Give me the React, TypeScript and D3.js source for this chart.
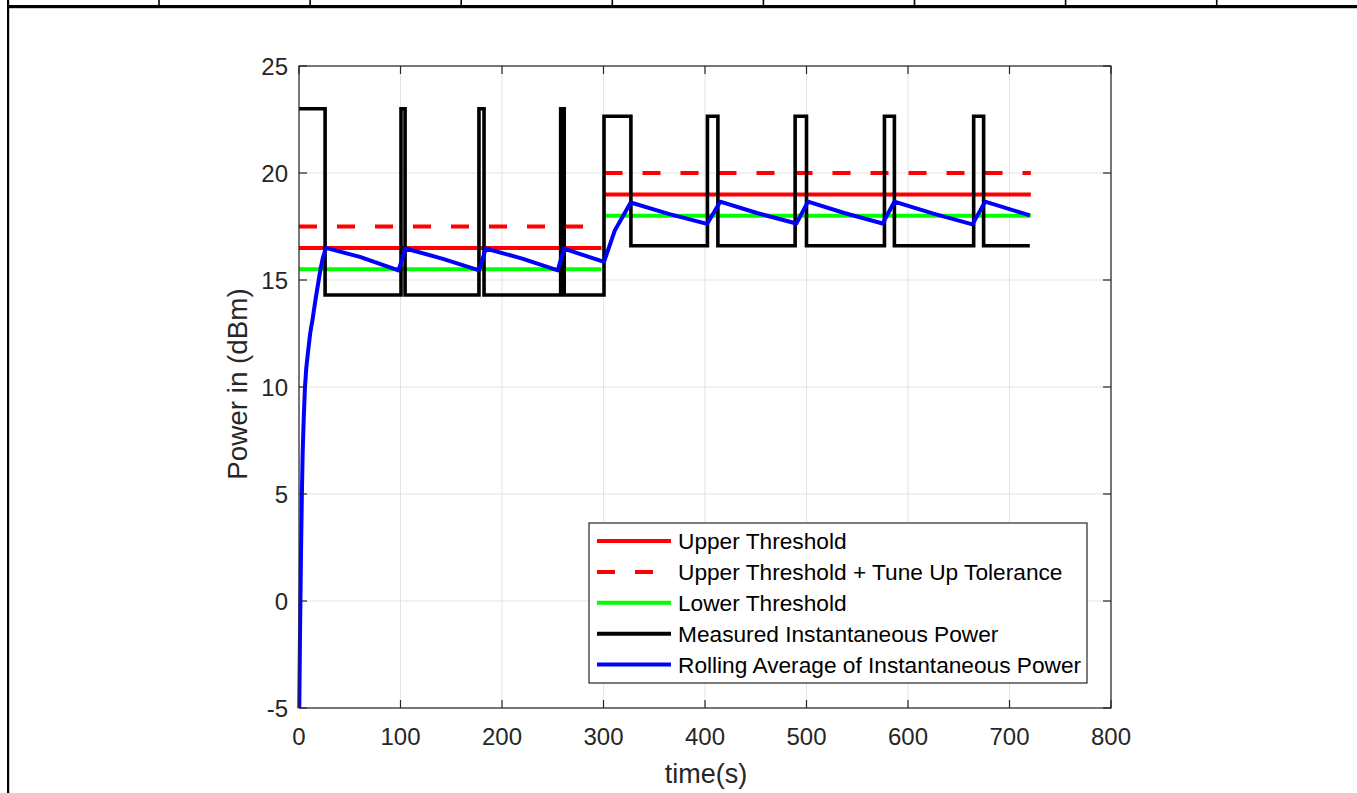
import React from "react";
import * as d3 from "d3";

// ---- data ----
const xTicks = [0, 100, 200, 300, 400, 500, 600, 700, 800];
const yTicks = [-5, 0, 5, 10, 15, 20, 25];

// thresholds per phase: [tStart, tEnd, value]
const upperThreshold = [
  [0, 298, 16.5],
  [301, 721, 19],
];
const upperTolerance = [
  [0, 298, 17.5],
  [301, 721, 20],
];
const lowerThreshold = [
  [0, 298, 15.5],
  [301, 721, 18],
];

// measured instantaneous power: change times and levels (step after)
const measuredT = [
  0, 25.7, 100.5, 104.5, 177.3, 182.3, 257.8, 261.3, 300.5, 327, 402.4, 412.7,
  488.8, 500, 576.8, 586.6, 664.7, 674.5, 720,
];
const measuredV = [
  23, 14.3, 23, 14.3, 23, 14.3, 23, 14.3, 22.65, 16.6, 22.65, 16.6, 22.65, 16.6,
  22.65, 16.6, 22.65, 16.6, 16.6,
];

// rolling average
const rollT = [
  0.3, 1, 2, 2.8, 3.6, 4.7, 5.9, 7.2, 8.8, 11, 13.5, 16, 18.4, 20.8, 23.3, 26.5,
  60, 98, 105, 141, 177.5, 184, 220, 255, 261, 281, 300.5, 311, 326.8, 365, 402,
  415, 452, 490, 501.5, 538, 575, 586.6, 625, 663.5, 676, 720,
];
const rollV = [
  -5, -1.5, 2.3, 4.9, 6.9, 8.6, 10, 10.9, 11.6, 12.5, 13.2, 14.0, 14.7, 15.4, 16.0,
  16.5, 16.08, 15.45, 16.47, 16.0, 15.45, 16.47, 16.0, 15.45, 16.47, 16.15, 15.85,
  17.3, 18.62, 18.08, 17.62, 18.66, 18.12, 17.64, 18.66, 18.12, 17.64, 18.66, 18.1,
  17.6, 18.66, 18.02,
];

const legendItems = [
  { label: "Upper Threshold", color: "#ff0000", dash: "" },
  { label: "Upper Threshold + Tune Up Tolerance", color: "#ff0000", dash: "18 20" },
  { label: "Lower Threshold", color: "#00ff00", dash: "" },
  { label: "Measured Instantaneous Power", color: "#000000", dash: "" },
  { label: "Rolling Average of Instantaneous Power", color: "#0000ff", dash: "" },
];

const W = 1357;
const H = 793;
const FONT = "'Liberation Sans', Arial, Helvetica, sans-serif";
const AX = "#262626";

export default function App() {
  const x = d3.scaleLinear().domain([0, 800]).range([299, 1111]);
  const y = d3.scaleLinear().domain([-5, 25]).range([708, 66]);
  const [x0, x1] = x.range();
  const [yb, yt] = y.range();

  const stepLine = d3
    .line<number>()
    .x((_, i) => x(measuredT[i]))
    .y((d) => y(d))
    .curve(d3.curveStepAfter);
  const rollLine = d3
    .line<number>()
    .x((_, i) => x(rollT[i]))
    .y((d) => y(d));

  const seg = (arr: number[][], color: string, dash: string, key: string) =>
    arr.map((s, i) => (
      <line
        key={key + i}
        x1={x(s[0])}
        x2={x(s[1])}
        y1={y(s[2])}
        y2={y(s[2])}
        stroke={color}
        strokeWidth={4}
        strokeDasharray={dash || undefined}
      />
    ));

  const frameTicks = d3.range(8).map((i) => 159 + i * 151.1);

  const legX = 589;
  const legY = 523;
  const legW = 498;
  const legH = 160;
  const rowY = (i: number) => 541 + i * 30.9;

  return (
    <svg
      width={W}
      height={H}
      style={{ position: "absolute", left: 0, top: 0, display: "block", background: "#fff" }}
      fontFamily={FONT}
    >
      <rect x={0} y={0} width={W} height={H} fill="#fff" />
      {/* page frame */}
      <rect x={7} y={5} width={W - 7} height={3.2} fill="#000" />
      <rect x={7} y={0} width={2.2} height={H} fill="#000" />
      {frameTicks.map((fx, i) => (
        <rect key={"ft" + i} x={fx - 0.8} y={0} width={1.6} height={6} fill="#000" />
      ))}

      {/* grid */}
      {xTicks.map((t) => (
        <line key={"gx" + t} x1={x(t)} x2={x(t)} y1={yb} y2={yt} stroke="#e3e3e3" strokeWidth={1} />
      ))}
      {yTicks.map((t) => (
        <line key={"gy" + t} x1={x0} x2={x1} y1={y(t)} y2={y(t)} stroke="#e3e3e3" strokeWidth={1} />
      ))}

      {/* data */}
      {seg(upperThreshold, "#ff0000", "", "ut")}
      {seg(upperTolerance, "#ff0000", "18 20", "utt")}
      {seg(lowerThreshold, "#00ff00", "", "lt")}
      <path d={stepLine(measuredV) || ""} fill="none" stroke="#000" strokeWidth={3.6} />
      <path d={rollLine(rollV) || ""} fill="none" stroke="#0000ff" strokeWidth={4} strokeLinejoin="round" />

      {/* axes box */}
      <rect x={x0} y={yt} width={x1 - x0} height={yb - yt} fill="none" stroke={AX} strokeWidth={1.2} />
      {xTicks.map((t) => (
        <g key={"tx" + t}>
          <line x1={x(t)} x2={x(t)} y1={yb} y2={yb - 8} stroke={AX} strokeWidth={1.2} />
          <line x1={x(t)} x2={x(t)} y1={yt} y2={yt + 8} stroke={AX} strokeWidth={1.2} />
          <text x={x(t)} y={745} textAnchor="middle" fontSize={24} fill={AX}>
            {t}
          </text>
        </g>
      ))}
      {yTicks.map((t) => (
        <g key={"ty" + t}>
          <line x1={x0} x2={x0 + 8} y1={y(t)} y2={y(t)} stroke={AX} strokeWidth={1.2} />
          <line x1={x1} x2={x1 - 8} y1={y(t)} y2={y(t)} stroke={AX} strokeWidth={1.2} />
          <text x={288} y={y(t) + 8.6} textAnchor="end" fontSize={24} fill={AX}>
            {t}
          </text>
        </g>
      ))}
      <text x={706} y={783} textAnchor="middle" fontSize={27} fill={AX}>
        time(s)
      </text>
      <text
        transform={`translate(247,384) rotate(-90)`}
        textAnchor="middle"
        fontSize={27.8}
        fill={AX}
      >
        Power in (dBm)
      </text>

      {/* legend */}
      <rect x={legX} y={legY} width={legW} height={legH} fill="#fff" stroke={AX} strokeWidth={1.2} />
      {legendItems.map((it, i) => (
        <g key={"lg" + i}>
          <line
            x1={597}
            x2={671}
            y1={rowY(i)}
            y2={rowY(i)}
            stroke={it.color}
            strokeWidth={4}
            strokeDasharray={it.dash || undefined}
          />
          <text x={678} y={rowY(i) + 8} fontSize={22.7} fill="#000">
            {it.label}
          </text>
        </g>
      ))}
    </svg>
  );
}
